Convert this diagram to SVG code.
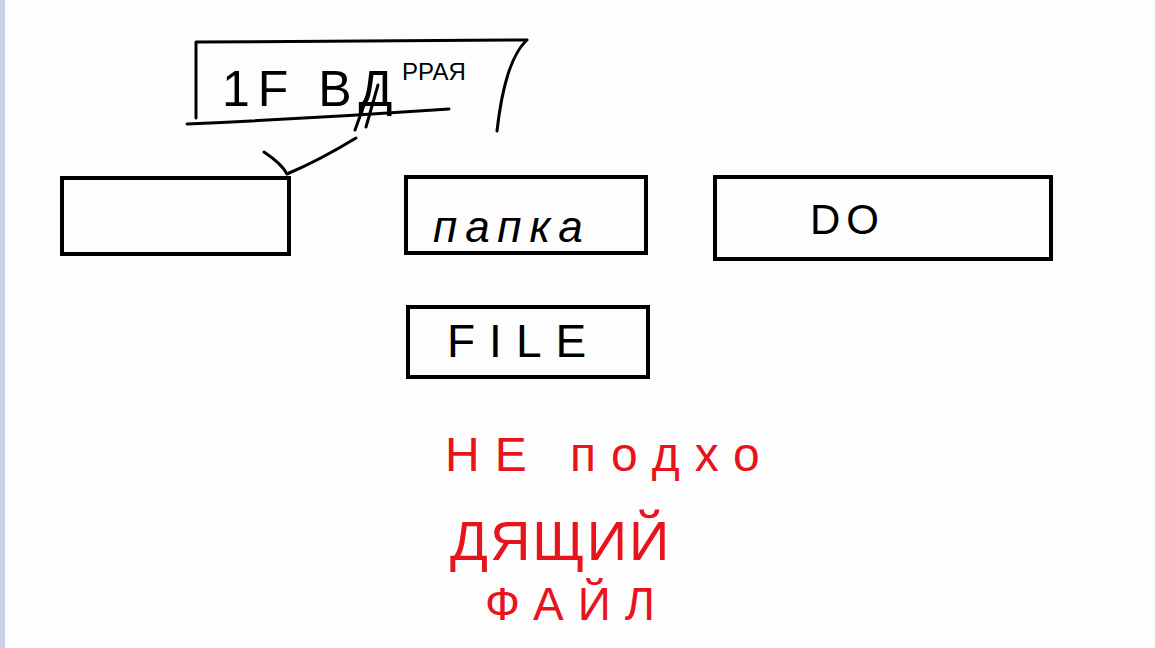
<svg xmlns="http://www.w3.org/2000/svg" width="1155" height="648" viewBox="0 0 1155 648">
<style>
.box{fill:none;stroke:#000;stroke-width:4}
.ink{fill:none;stroke:#000;stroke-width:3;stroke-linecap:round;stroke-linejoin:round}
.t{font-family:"Liberation Sans","DejaVu Sans",sans-serif;fill:#000}
.r{font-family:"Liberation Sans","DejaVu Sans",sans-serif;fill:#e8141c}
</style>
<rect x="0" y="0" width="1155" height="648" fill="#fdfdfd"/>
<rect x="0" y="0" width="5" height="648" fill="#c8d2e3"/>
<g id="title">
<path class="ink" d="M196 42 L527 40 M196 42 L196 118 M187 124 Q320 118 449 109 M527 40 Q505 60 497 131"/>
<text class="t" x="222" y="106" font-size="50" letter-spacing="8">1F ВД</text>
<text class="t" x="402" y="80" font-size="24">РРАЯ</text>
<path class="ink" d="M367 97 L355 130 M378 85 L366 127"/>
</g>
<g id="connectors">
<path class="ink" d="M264 152 Q282 164 287 174 Q320 160 356 138"/>
</g>
<g id="node-empty"><rect class="box" x="62" y="178" width="227" height="76"/></g>
<g id="node-papka"><rect class="box" x="406" y="177" width="240" height="76"/>
<text class="t" x="433" y="242" font-size="44" font-style="italic" letter-spacing="8">папка</text></g>
<g id="node-do"><rect class="box" x="715" y="177" width="336" height="82"/>
<text class="t" x="810" y="234" font-size="42" letter-spacing="6">DO</text></g>
<g id="node-file"><rect class="box" x="408" y="307" width="240" height="70"/>
<text class="t" x="447" y="357" font-size="46" letter-spacing="14">FILE</text></g>
<g id="note">
<text class="r" x="445" y="471" font-size="48" letter-spacing="15">НЕ подхо</text>
<text class="r" x="450" y="560" font-size="56" letter-spacing="2">ДЯЩИЙ</text>
<text class="r" x="485" y="620" font-size="46" letter-spacing="14">ФАЙЛ</text>
</g>
</svg>
